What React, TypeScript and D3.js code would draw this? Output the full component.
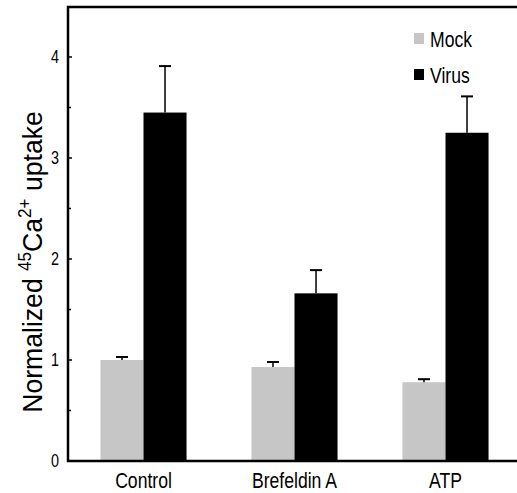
import React, { useEffect, useRef } from 'react';
import * as d3 from 'd3';

const categories = ['Control', 'Brefeldin A', 'ATP'];
const series = ['Mock', 'Virus'];
const mockValues = [1.0, 0.93, 0.78];
const mockErrors = [0.03, 0.05, 0.03];
const virusValues = [3.45, 1.66, 3.25];
const virusErrors = [0.46, 0.23, 0.36];
const majorTicks = [0, 1, 2, 3, 4];
const minorTicks = [0.5, 1.5, 2.5, 3.5];

const colors: Record<string, string> = { Mock: '#c6c6c6', Virus: '#000000' };
const FONT = '"Liberation Sans", Arial, sans-serif';
const NARROW = 0.8; // the original uses a condensed face

export default function App() {
  const svgRef = useRef<SVGSVGElement>(null);

  useEffect(() => {
    const svg = d3.select(svgRef.current);
    svg.selectAll('*').remove();

    const left = 68, right = 521, top = 7, bottom = 461;

    const y = d3.scaleLinear().domain([0, 4]).range([bottom, bottom - 404]);
    const x0 = d3.scaleBand<string>().domain(categories)
      .range([left, right]).paddingInner(0.43).paddingOuter(0.215);
    const x1 = d3.scaleBand<string>().domain(series)
      .range([0, x0.bandwidth()]).padding(0);

    const rows = categories.map((c, i) => ({
      cat: c,
      vals: [
        { s: 'Mock', v: mockValues[i], e: mockErrors[i] },
        { s: 'Virus', v: virusValues[i], e: virusErrors[i] },
      ],
    }));

    // bars
    const g = svg.append('g');
    const grp = g.selectAll('.grp').data(rows).enter().append('g')
      .attr('transform', d => `translate(${x0(d.cat)},0)`);

    grp.selectAll('rect').data(d => d.vals).enter().append('rect')
      .attr('x', d => x1(d.s)!)
      .attr('y', d => y(d.v))
      .attr('width', x1.bandwidth())
      .attr('height', d => y(0) - y(d.v))
      .attr('fill', d => colors[d.s]);

    // error bars (upper only)
    grp.selectAll('.err').data(d => d.vals).enter().append('line')
      .attr('x1', d => x1(d.s)! + x1.bandwidth() / 2)
      .attr('x2', d => x1(d.s)! + x1.bandwidth() / 2)
      .attr('y1', d => y(d.v))
      .attr('y2', d => y(d.v + d.e))
      .attr('stroke', '#000').attr('stroke-width', 1.5);
    grp.selectAll('.cap').data(d => d.vals).enter().append('line')
      .attr('x1', d => x1(d.s)! + x1.bandwidth() / 2 - 6)
      .attr('x2', d => x1(d.s)! + x1.bandwidth() / 2 + 6)
      .attr('y1', d => y(d.v + d.e))
      .attr('y2', d => y(d.v + d.e))
      .attr('stroke', '#000').attr('stroke-width', 2);

    // frame: left, top, bottom
    svg.append('path')
      .attr('d', `M${right},${top}H${left}V${bottom}H${right}`)
      .attr('fill', 'none').attr('stroke', '#000').attr('stroke-width', 2.5);

    // y ticks (inside)
    svg.selectAll('.maj').data(majorTicks).enter().append('line')
      .attr('x1', left).attr('x2', left + 4)
      .attr('y1', d => y(d)).attr('y2', d => y(d))
      .attr('stroke', '#000').attr('stroke-width', 1.5);
    svg.selectAll('.min').data(minorTicks).enter().append('line')
      .attr('x1', left).attr('x2', left + 3)
      .attr('y1', d => y(d)).attr('y2', d => y(d))
      .attr('stroke', '#000').attr('stroke-width', 1.5);
    svg.selectAll('.ylab').data(majorTicks).enter().append('text')
      .attr('transform', d => `translate(55,${y(d) + 6}) scale(${NARROW},1)`)
      .attr('text-anchor', 'middle')
      .style('font-family', FONT).style('font-size', '18px')
      .text(d => d);

    // x labels
    svg.selectAll('.xlab').data(categories).enter().append('text')
      .attr('transform', d => `translate(${x0(d)! + x0.bandwidth() / 2},488) scale(${NARROW},1)`)
      .attr('text-anchor', 'middle')
      .style('font-family', FONT).style('font-size', '22px')
      .text(d => d);

    // y axis title
    const t = svg.append('text')
      .attr('transform', 'translate(42,262) rotate(-90) scale(0.95,1)')
      .attr('text-anchor', 'middle')
      .style('font-family', FONT)
      .style('font-size', '28px');
    t.append('tspan').text('Normalized ');
    t.append('tspan').attr('dy', -11).style('font-size', '18px').text('45');
    t.append('tspan').attr('dy', 11).text('Ca');
    t.append('tspan').attr('dy', -11).style('font-size', '18px').text('2+');
    t.append('tspan').attr('dy', 11).text(' uptake');

    // legend
    const leg = svg.append('g');
    const ly = [33, 69];
    leg.selectAll('rect').data(series).enter().append('rect')
      .attr('x', 414).attr('y', (d, i) => ly[i])
      .attr('width', 10).attr('height', 11)
      .attr('fill', d => colors[d]);
    leg.selectAll('text').data(series).enter().append('text')
      .attr('transform', (d, i) => `translate(430,${ly[i] + 14}) scale(${NARROW},1)`)
      .style('font-family', FONT).style('font-size', '22px')
      .text(d => d);
  }, []);

  return (
    <svg ref={svgRef} width={517} height={493}
      style={{ position: 'absolute', left: 0, top: 0, background: '#fff' }} />
  );
}
